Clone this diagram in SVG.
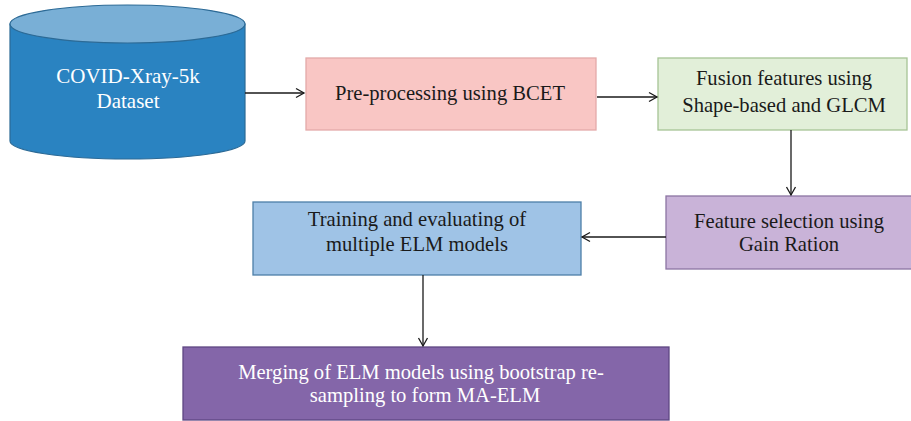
<svg xmlns="http://www.w3.org/2000/svg" width="911" height="421" viewBox="0 0 911 421">
  <style>
    text { font-family: "Liberation Serif", "Times New Roman", serif; font-size: 20.6px; text-anchor: middle; fill: #1a1a1a; }
    text.light { fill: #ffffff; }
    .conn { stroke: #1a1a1a; stroke-width: 1.3; fill: none; marker-end: url(#arrow); }
    .box { stroke-width: 1.3; }
  </style>
  <defs>
    <marker id="arrow" markerUnits="userSpaceOnUse" markerWidth="12" markerHeight="12" viewBox="0 0 12 12" refX="10" refY="6" orient="auto">
      <path d="M2,1.5 L10,6 L2,10.5" fill="none" stroke="#1a1a1a" stroke-width="1.3"/>
    </marker>
  </defs>

  <rect width="911" height="421" fill="#ffffff"/>

  <!-- dataset cylinder -->
  <g id="dataset">
    <path d="M10,24 L10,141 A117.5,18 0 0 0 245,141 L245,24 Z" fill="#2a83c1" stroke="#2c6a96" stroke-width="1.2"/>
    <ellipse cx="127.5" cy="24" rx="117.5" ry="19" fill="#79afd6" stroke="#2c6a96" stroke-width="1.2"/>
    <text class="light" x="128" y="83" style="font-size:21px">COVID-Xray-5k</text>
    <text class="light" x="128" y="108" style="font-size:21px">Dataset</text>
  </g>

  <g id="preprocessing">
    <rect class="box" x="306" y="58" width="290" height="72" fill="#f9c6c4" stroke="#e3aaa9"/>
    <text x="450" y="100">Pre-processing using BCET</text>
  </g>

  <g id="fusion">
    <rect class="box" x="658" y="58" width="249" height="72" fill="#e2efd9" stroke="#a6c495"/>
    <text x="784" y="85">Fusion features using</text>
    <text x="784" y="112">Shape-based and GLCM</text>
  </g>

  <g id="selection">
    <rect class="box" x="666" y="196" width="246" height="73" fill="#c9b3d8" stroke="#8c75a3"/>
    <text x="789" y="228">Feature selection using</text>
    <text x="789" y="251">Gain Ration</text>
  </g>

  <g id="training">
    <rect class="box" x="253" y="202" width="328" height="73" fill="#9fc3e6" stroke="#4d7fa8"/>
    <text x="417" y="226">Training and evaluating of</text>
    <text x="417" y="251">multiple ELM models</text>
  </g>

  <g id="merging">
    <rect class="box" x="183" y="347" width="486" height="73" fill="#8466a9" stroke="#5f4783"/>
    <text class="light" x="421" y="379">Merging of ELM models using bootstrap re-</text>
    <text class="light" x="425" y="402">sampling to form MA-ELM</text>
  </g>

  <g id="connectors">
    <path class="conn" d="M245,93 H304"/>
    <path class="conn" d="M597,97 H657"/>
    <path class="conn" d="M791,130 V195"/>
    <path class="conn" d="M666,237 H582"/>
    <path class="conn" d="M423,275 V346"/>
  </g>
</svg>
